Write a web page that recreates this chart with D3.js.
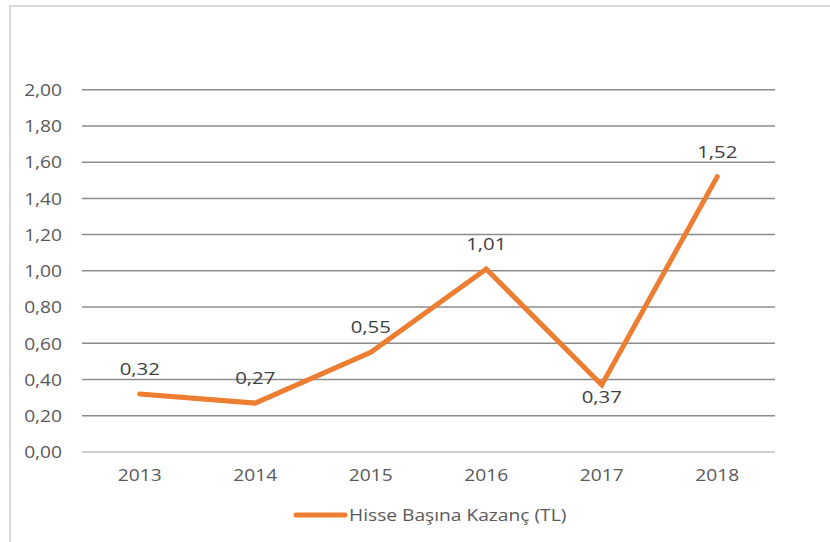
<!DOCTYPE html>
<html>
<head>
<meta charset="utf-8">
<script src="https://cdn.jsdelivr.net/npm/d3@7"></script>
<style>
  body { margin: 0; background: #fff; }
  svg { display: block; font-family: "Open Sans", sans-serif; }
</style>
</head>
<body>
<div id="chart"></div>
<script>
// data
const years = ['2013', '2014', '2015', '2016', '2017', '2018'];
const eps = [0.32, 0.27, 0.55, 1.01, 0.37, 1.52];
const labelBelow = [false, false, false, false, true, false];
const yTicks = [0, 0.2, 0.4, 0.6, 0.8, 1.0, 1.2, 1.4, 1.6, 1.8, 2.0];
const seriesName = 'Hisse Başına Kazanç (TL)';

const width = 830, height = 542;
const plot = { left: 82, right: 775, top: 89.7, bottom: 452 };
const orange = '#ED7D31';
const stretch = 1.2; // reference text is a bit wide

const fmt = v => v.toFixed(2).replace('.', ',');

const svg = d3.select('#chart').append('svg')
    .attr('width', width)
    .attr('height', height);

// frame (only left and top edges are visible)
svg.append('path')
    .attr('d', 'M10,542 L10,6 L830,6')
    .attr('fill', 'none')
    .attr('stroke', '#d9d9d9')
    .attr('stroke-width', 2);

const x = d3.scaleBand().domain(years).range([plot.left, plot.right]);
const y = d3.scaleLinear().domain([0, 2]).range([plot.bottom, plot.top]);

function stretchedText(g, tx, ty) {
    return g.append('text')
        .attr('transform', `translate(${tx},${ty}) scale(${stretch},1)`);
}

// gridlines
svg.append('g').selectAll('line')
    .data(yTicks.filter(t => t > 0))
    .enter().append('line')
    .attr('x1', plot.left).attr('x2', plot.right)
    .attr('y1', d => y(d)).attr('y2', d => y(d))
    .attr('stroke', '#8c8c8c')
    .attr('stroke-width', 1.5);

// category axis line
svg.append('line')
    .attr('x1', plot.left).attr('x2', plot.right)
    .attr('y1', y(0)).attr('y2', y(0))
    .attr('stroke', '#d0d0d0')
    .attr('stroke-width', 2);

// y tick labels
const yLab = svg.append('g');
yTicks.forEach(t => {
    stretchedText(yLab, 62, y(t))
        .attr('text-anchor', 'end')
        .attr('dominant-baseline', 'central')
        .attr('font-size', 16)
        .attr('fill', '#595959')
        .text(fmt(t));
});

// x tick labels
const xLab = svg.append('g');
years.forEach(yr => {
    stretchedText(xLab, x(yr) + x.bandwidth() / 2, 475)
        .attr('text-anchor', 'middle')
        .attr('dominant-baseline', 'central')
        .attr('font-size', 16)
        .attr('fill', '#595959')
        .text(yr);
});

// the line
const line = d3.line()
    .x((d, i) => x(years[i]) + x.bandwidth() / 2)
    .y(d => y(d));

svg.append('path')
    .datum(eps)
    .attr('d', line)
    .attr('fill', 'none')
    .attr('stroke', orange)
    .attr('stroke-width', 5)
    .attr('stroke-linejoin', 'miter')
    .attr('stroke-linecap', 'round');

// data labels
const dLab = svg.append('g');
eps.forEach((v, i) => {
    const cx = x(years[i]) + x.bandwidth() / 2;
    const cy = labelBelow[i] ? y(v) + 18 : y(v) - 19;
    stretchedText(dLab, cx, cy)
        .attr('text-anchor', 'middle')
        .attr('font-size', 17)
        .attr('fill', '#404040')
        .text(fmt(v));
});

// legend
const legend = svg.append('g');
legend.append('line')
    .attr('x1', 296).attr('x2', 345)
    .attr('y1', 515).attr('y2', 515)
    .attr('stroke', orange)
    .attr('stroke-width', 5)
    .attr('stroke-linecap', 'round');
stretchedText(legend, 349, 515)
    .attr('dominant-baseline', 'central')
    .attr('font-size', 16)
    .attr('fill', '#595959')
    .text(seriesName);
</script>
</body>
</html>
